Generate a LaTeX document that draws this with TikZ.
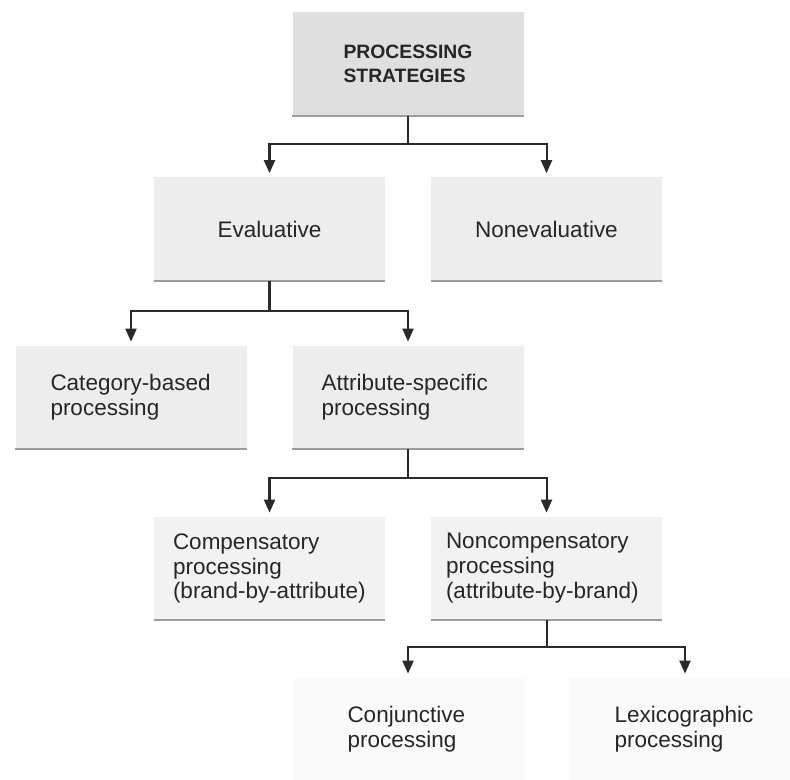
\documentclass[tikz,border=0pt]{standalone}
\usepackage{fontspec}
\setmainfont{Liberation Sans}
\usepackage{xcolor}
\usepackage{tikz}
\usetikzlibrary{arrows.meta}

\definecolor{rootgray}{HTML}{DFDFDF}
\definecolor{boxgray}{HTML}{EDEDED}
\definecolor{palegray}{HTML}{F2F2F2}
\definecolor{faintgray}{HTML}{FAFAFA}
\definecolor{rulegray}{HTML}{9C9C9C}
\definecolor{linegray}{HTML}{2A2A2A}

\begin{document}
\begin{tikzpicture}[
        box/.style={rectangle, minimum width=4.62cm, minimum height=2.06cm, inner ysep=0pt, fill=boxgray, text=black!85,
            font=\fontsize{12.8}{14.2}\selectfont,
            execute at begin node={\hyphenpenalty=10000\relax\exhyphenpenalty=10000\relax}},
        leftbox/.style={box, align=left, text width=#1},
        rule/.style={rulegray, line width=1.2pt},
        branch/.style={linegray, line width=1.15pt, -{Triangle[width=0.22cm,length=0.26cm]}, shorten >=0.08cm}
    ]
            \useasboundingbox (0,0) rectangle (15.8,15.6);

            % Root
            \node[box, fill=rootgray, align=left, font=\fontsize{11}{13.7}\selectfont\bfseries] (root) at (8.16,14.32) {PROCESSING\\STRATEGIES};

            % Level 1
            \node[box, align=center] (eval) at (5.39,11.02) {Evaluative};
            \node[box, align=center] (noneval) at (10.93,11.02) {Nonevaluative};

            % Level 2
            \node[leftbox=3.22cm, inner xsep=0.70cm] (category) at (2.62,7.65) {Category-based\\processing};
            \node[leftbox=3.46cm, inner xsep=0.58cm] (attribute) at (8.16,7.65) {Attribute-specific\\processing};

            % Level 3
            \node[leftbox=3.86cm, inner xsep=0.38cm, fill=palegray] (comp) at (5.39,4.23) {Compensatory\\processing\\(brand-by-attribute)};
            \node[leftbox=4.02cm, inner xsep=0.30cm, fill=palegray] (noncomp) at (10.93,4.23) {Noncompensatory\\processing\\(attribute-by-brand)};

            % Level 4
            \node[leftbox=2.42cm, inner xsep=1.10cm, fill=faintgray] (conj) at (8.16,1.01) {Conjunctive\\processing};
            \node[leftbox=2.82cm, inner xsep=0.90cm, fill=faintgray] (lexi) at (13.70,1.01) {Lexicographic\\processing};

            % Rules under the boxes
            \draw[rule] (root.south west) -- (root.south east);
            \draw[rule] (eval.south west) -- (eval.south east);
            \draw[rule] (noneval.south west) -- (noneval.south east);
            \draw[rule] (category.south west) -- (category.south east);
            \draw[rule] (attribute.south west) -- (attribute.south east);
            \draw[rule] (comp.south west) -- (comp.south east);
            \draw[rule] (noncomp.south west) -- (noncomp.south east);
            \draw[rule, rulegray!40] (conj.south west) -- (conj.south east);
            \draw[rule, rulegray!40] (lexi.south west) -- (lexi.south east);

            % Arrows
            \draw[branch] (root.south) -- ++(0,-0.56) -| (eval.north);
            \draw[branch] (root.south) -- ++(0,-0.56) -| (noneval.north);

            \draw[branch] (eval.south) -- ++(0,-0.60) -| (category.north);
            \draw[branch] (eval.south) -- ++(0,-0.60) -| (attribute.north);

            \draw[branch] (attribute.south) -- ++(0,-0.58) -| (comp.north);
            \draw[branch] (attribute.south) -- ++(0,-0.58) -| (noncomp.north);

            \draw[branch] (noncomp.south) -- ++(0,-0.54) -| (conj.north);
            \draw[branch] (noncomp.south) -- ++(0,-0.54) -| (lexi.north);
\end{tikzpicture}
\end{document}
